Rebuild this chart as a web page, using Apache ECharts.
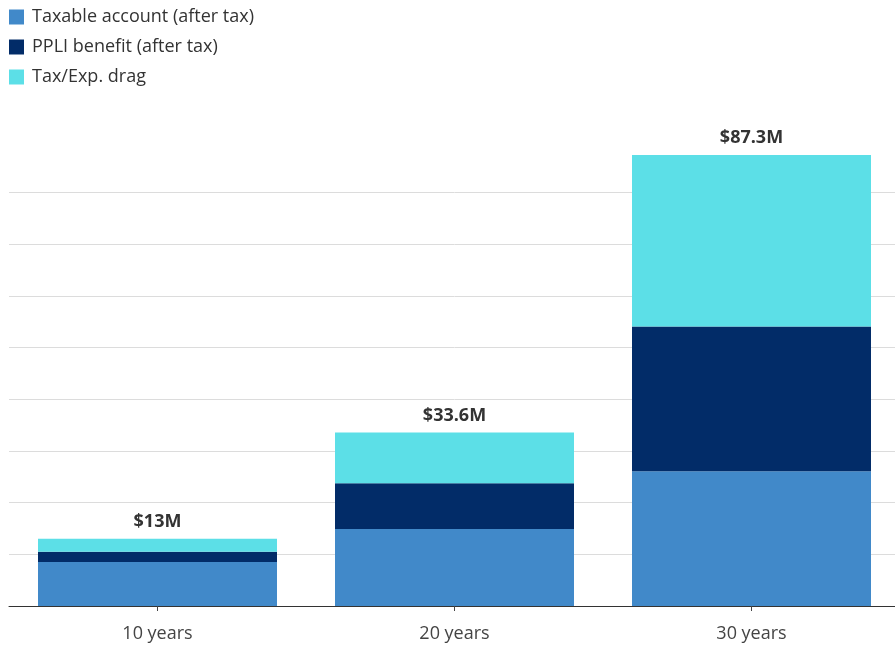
<!DOCTYPE html>
<html>
<head>
<meta charset="utf-8">
<script src="https://cdn.jsdelivr.net/npm/echarts@6/dist/echarts.min.js"></script>
<style>
html,body{margin:0;padding:0;background:#fff;overflow:hidden;}
#chart{width:905px;height:647px;}
</style>
</head>
<body>
<div id="chart"></div>
<script>
var categories = ['10 years', '20 years', '30 years'];
var taxable = [8.5, 14.9, 26.1];
var ppli = [2.0, 8.85, 28.0];
var drag = [2.5, 9.85, 33.2];
var totals = ['$13M', '$33.6M', '$87.3M'];
var seriesNames = ['Taxable account (after tax)', 'PPLI benefit (after tax)', 'Tax/Exp. drag'];
var colors = ['#4189c9', '#022c68', '#5cdfe7'];
var FONT = '"Open Sans", Lato, sans-serif';

var chart = echarts.init(document.getElementById('chart'));
chart.setOption({
  animation: false,
  color: colors,
  textStyle: { fontFamily: FONT },
  legend: {
    orient: 'vertical',
    left: 9,
    top: 8,
    padding: 0,
    itemWidth: 15,
    itemHeight: 15,
    itemGap: 12,
    icon: 'rect',
    textStyle: { fontSize: 18, color: '#333', fontFamily: FONT, padding: [0, 0, 0, 3] },
    data: seriesNames
  },
  grid: { left: 9, width: 891, top: 141, bottom: 41, containLabel: false },
  xAxis: {
    type: 'category',
    data: categories,
    axisLine: { lineStyle: { color: '#333', width: 1 } },
    axisTick: { show: true, alignWithLabel: true, length: 5, lineStyle: { color: '#444' } },
    axisLabel: { fontSize: 18, color: '#444', margin: 19, fontFamily: FONT }
  },
  yAxis: {
    type: 'value',
    min: 0,
    max: 90,
    interval: 10,
    axisLabel: { show: false },
    axisLine: { show: false },
    axisTick: { show: false },
    splitLine: { show: true, showMaxLine: false, lineStyle: { color: '#dcdcdc', width: 1 } }
  },
  series: [
    { name: seriesNames[0], type: 'bar', stack: 's', barWidth: 239, data: taxable },
    { name: seriesNames[1], type: 'bar', stack: 's', barWidth: 239, data: ppli },
    { name: seriesNames[2], type: 'bar', stack: 's', barWidth: 239, data: drag,
      label: {
        show: true, position: 'top', distance: 8,
        fontSize: 18, fontWeight: 'bold', color: '#333', fontFamily: FONT,
        formatter: function (p) { return totals[p.dataIndex]; }
      }
    }
  ]
});
</script>
</body>
</html>
